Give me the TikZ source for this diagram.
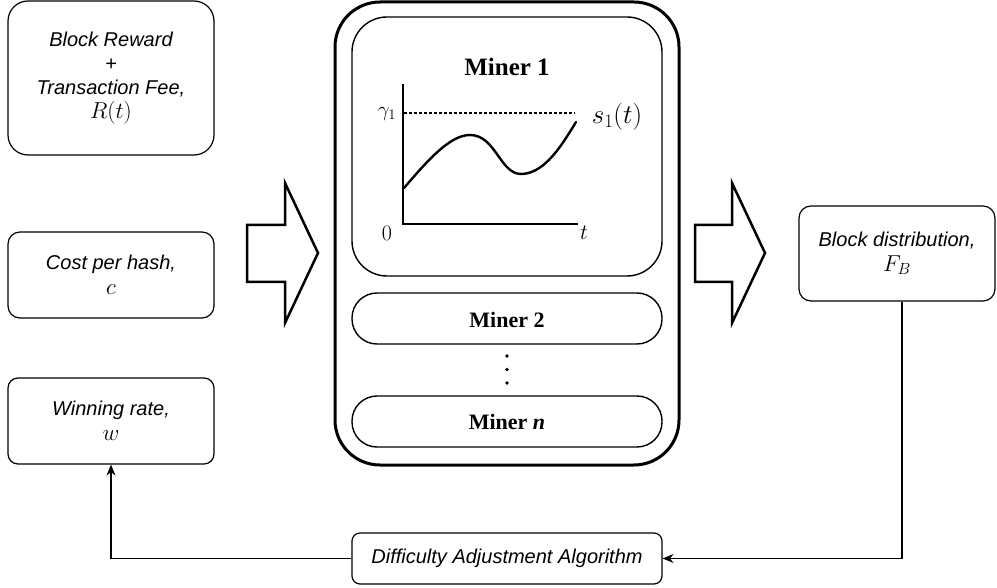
\RequirePackage{fix-cm}
\documentclass[tikz,border=0pt]{standalone}
\usepackage{fontspec}
\newfontfamily\labelsans{Liberation Sans}
\newfontfamily\labelserif{Liberation Serif}
\usetikzlibrary{arrows.meta}

\tikzset{
  sidebox/.style={draw, line width=1.2pt, rounded corners=12pt, align=center,
    font=\labelsans\itshape\fontsize{20}{24}\selectfont, inner sep=0pt},
  minerbox/.style={draw, line width=1.4pt, align=center, inner sep=0pt,
    minimum width=310pt},
  minerlabel/.style={font=\labelserif\bfseries\fontsize{22}{26}\selectfont},
  bigarrow/.style={draw, line width=2.5pt, line join=miter, fill=white},
  axis/.style={line width=2.6pt},
  flow/.style={line width=1.2pt, -{Stealth[length=11pt,width=9pt]}},
  mathlbl/.style={inner sep=0pt},
  dotmark/.style={circle, fill, inner sep=0pt, minimum size=3.8pt},
}
\newcommand{\bigmath}[1]{{\fontsize{23}{25}\selectfont$#1$}}

\begin{document}
\begin{tikzpicture}[x=1pt,y=-1pt]
\useasboundingbox (0,0) rectangle (997,588);

% inputs on the left
\node[sidebox, rounded corners=20pt, minimum width=206pt, minimum height=154pt] (reward) at (111,78)
  {Block Reward\\+\\Transaction Fee,\\\bigmath{R(t)}};
\node[sidebox, minimum width=206pt, minimum height=86pt] (cost) at (111,275)
  {Cost per hash,\\[1pt]\bigmath{c}};
\node[sidebox, rounded corners=10pt, minimum width=206pt, minimum height=86pt] (win) at (111,421)
  {Winning rate,\\[1pt]\bigmath{w}};

% output on the right
\node[sidebox, minimum width=196pt, minimum height=95pt] (dist) at (897,253.5)
  {Block distribution,\\[1pt]\bigmath{F_B}};

% difficulty adjustment
\node[sidebox, rounded corners=8pt, minimum width=310pt, minimum height=51pt] (daa) at (507,558.5)
  {Difficulty Adjustment Algorithm};

% miners container
\node[draw, line width=3pt, rounded corners=45pt, minimum width=344pt, minimum height=463pt] (pool) at (507,233.5) {};
\node[minerbox, rounded corners=35pt, minimum height=259pt] (m1) at (507,146.5) {};
\node[minerlabel, font=\labelserif\bfseries\fontsize{25}{28}\selectfont] (m1lbl) at (507,67) {Miner 1};
\node[minerbox, rounded corners=25pt, minimum height=51pt] (m2) at (507,318.5) {};
\node[minerlabel] (m2lbl) at (507,320) {Miner 2};
\node[dotmark] (dot1) at (507,356) {};
\node[dotmark] (dot2) at (507,369.5) {};
\node[dotmark] (dot3) at (507,383) {};
\node[minerbox, rounded corners=25pt, minimum height=51pt] (mn) at (507,421.5) {};
\node[minerlabel] (mnlbl) at (507,422) {Miner \textit{n}};

% hash-rate plot of miner 1
\coordinate (origin) at (403,224);
\coordinate (ytop) at (403,85);
\coordinate (xend) at (577,224);
\draw[axis, line cap=rect] (ytop) -- (origin) -- (xend);
\draw[line width=2.4pt, dash pattern=on 2.6pt off 2.4pt] (404,113) -- (575,113);
\draw[line width=2.4pt, line cap=round]
  (404,188) .. controls (428,160) and (450,135) .. (470,135)
            .. controls (496,135) and (500,175) .. (522,174)
            .. controls (545,173) and (562,145) .. (576,122);
\node[mathlbl, font=\fontsize{21}{23}\selectfont] (gam) at (387,114) {$\gamma_1$};
\node[mathlbl, font=\fontsize{27}{30}\selectfont] (slbl) at (617,117) {$s_1(t)$};
\node[mathlbl, font=\fontsize{22}{24}\selectfont] (zero) at (387,233) {$0$};
\node[mathlbl, font=\fontsize{22}{24}\selectfont] (tlbl) at (584,233) {$t$};

% block arrows into and out of the miners
\draw[bigarrow] (247,225) -- (285,225) -- (285,183) -- (318,253) -- (285,323) -- (285,282) -- (247,282) -- cycle;
\draw[bigarrow] (695,225) -- (732,225) -- (732,183) -- (765,253) -- (732,323) -- (732,282) -- (695,282) -- cycle;

% feedback loop
\draw[flow] ([xshift=5pt]dist.south) |- (daa.east);
\draw[flow] (daa.west) -| (win.south);
\end{tikzpicture}
\end{document}
